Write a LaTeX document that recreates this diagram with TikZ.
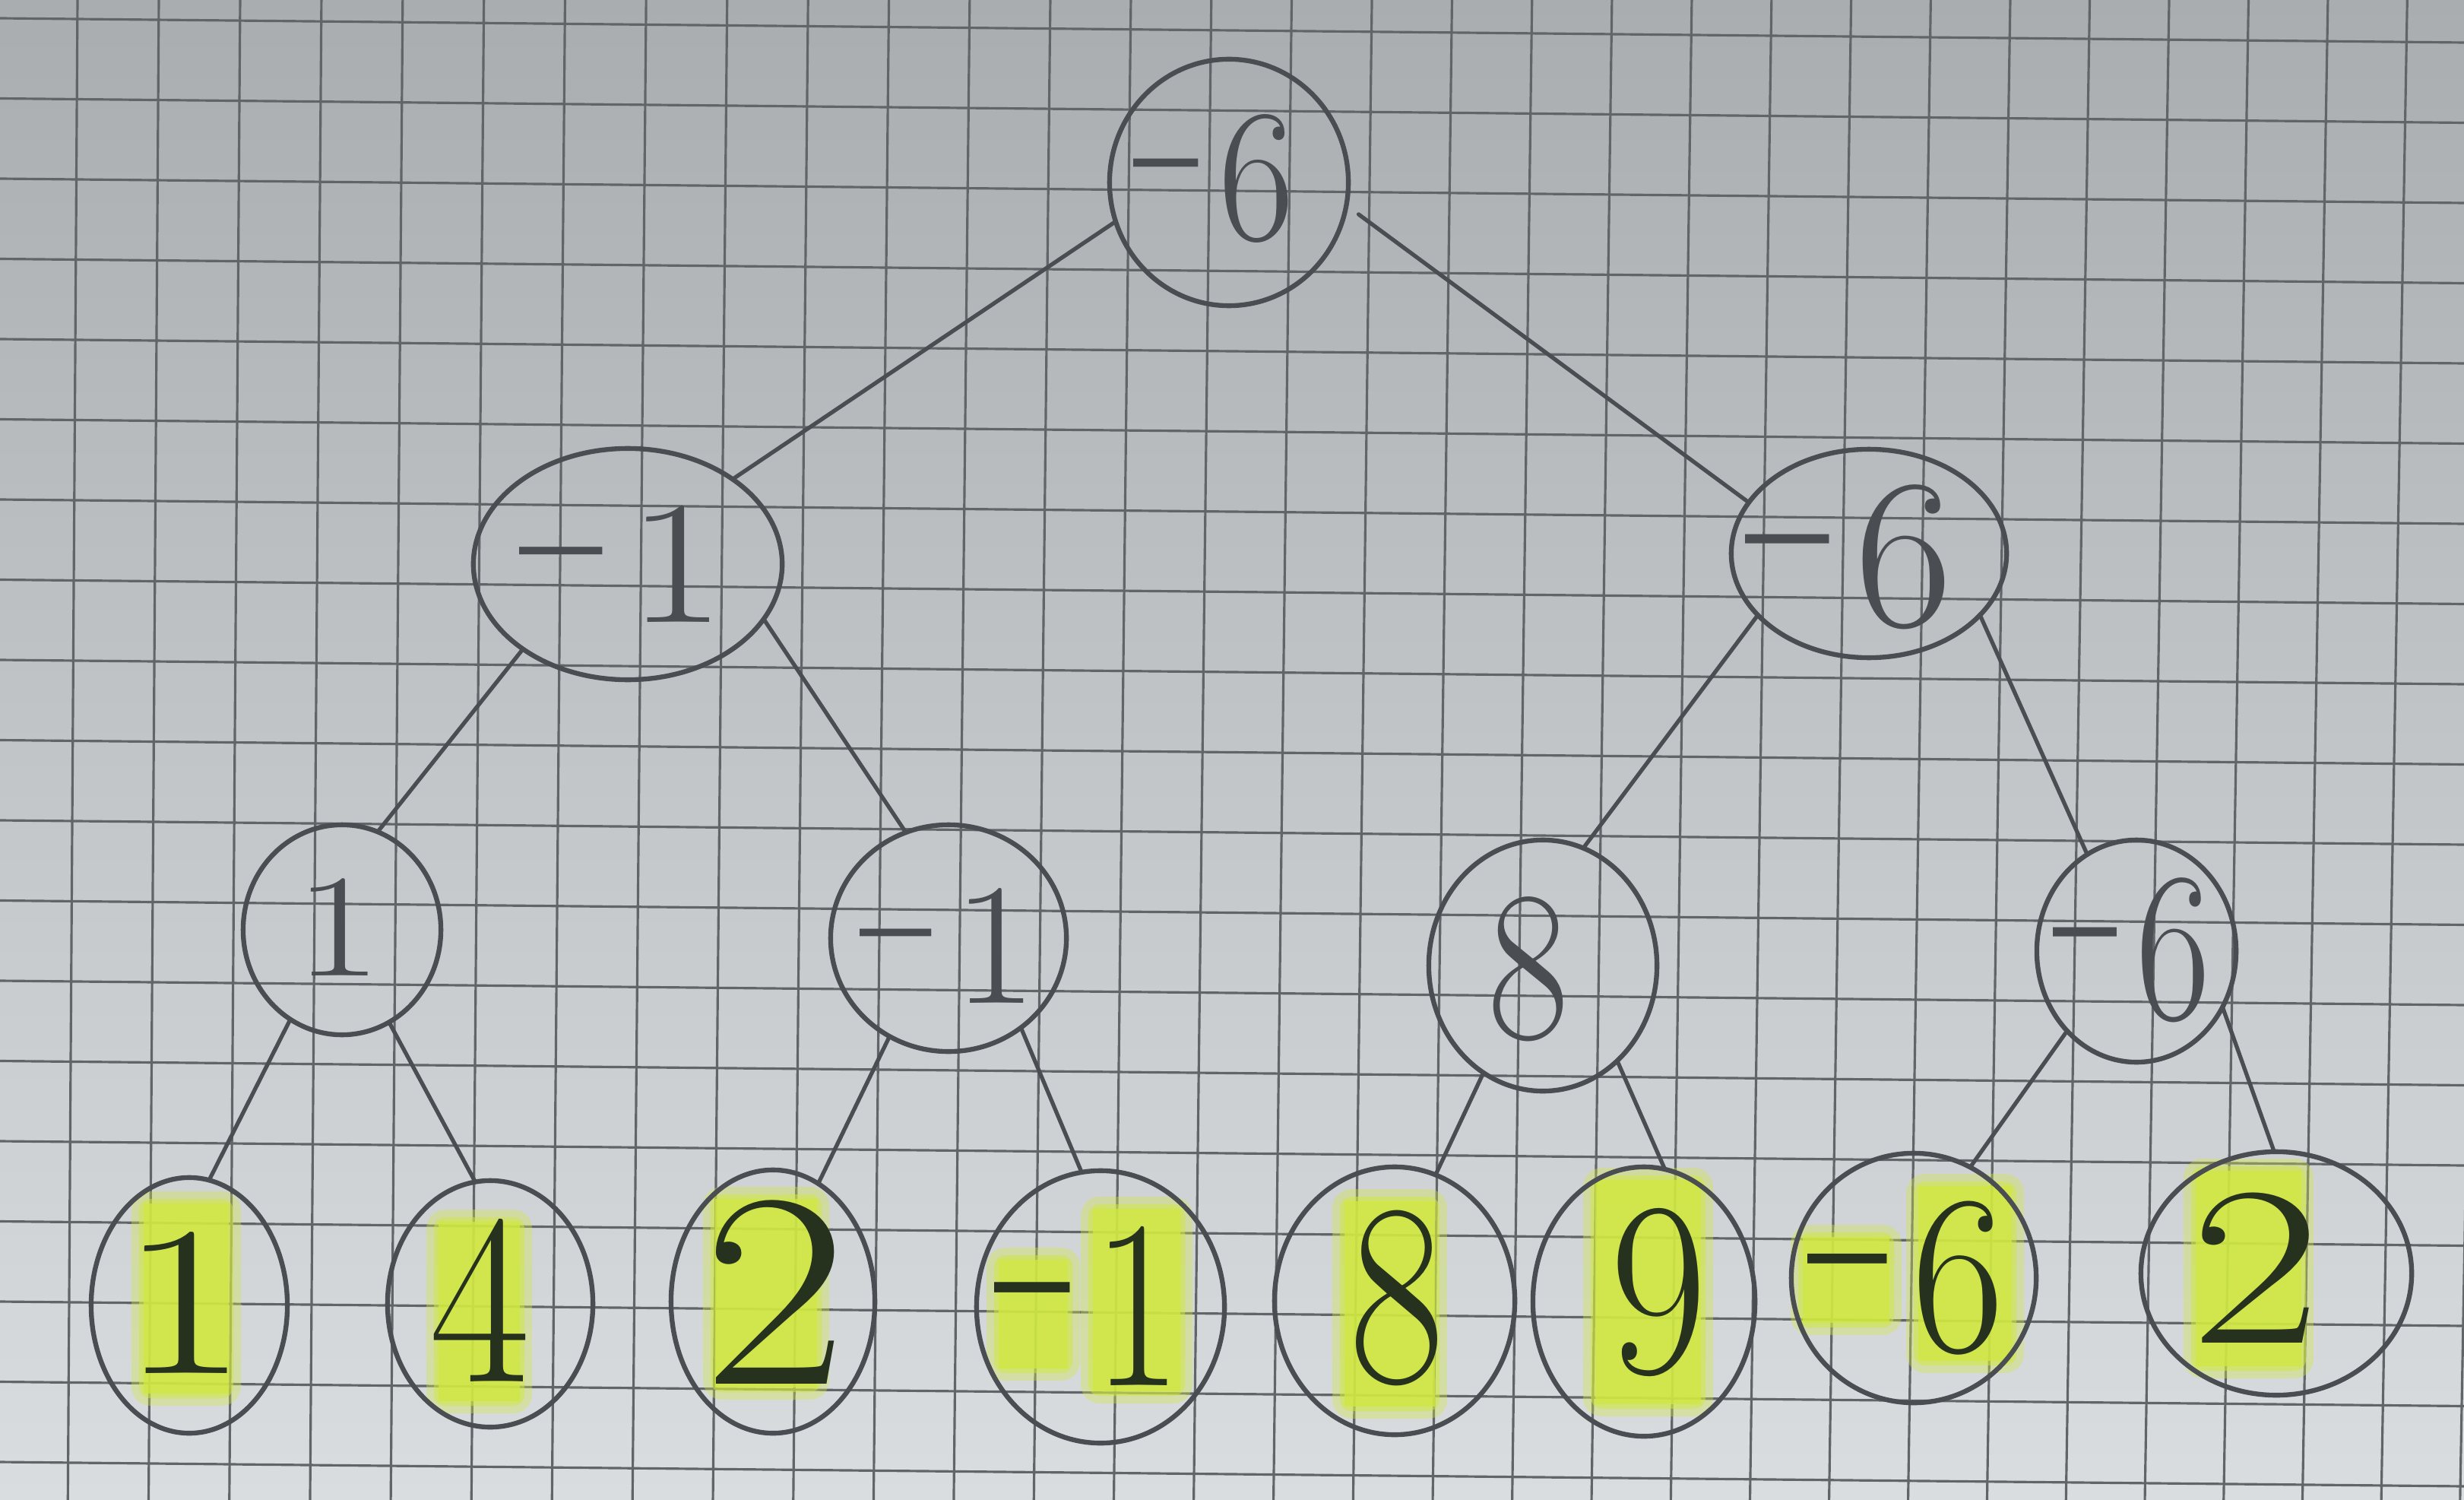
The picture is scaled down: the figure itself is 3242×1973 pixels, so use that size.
\documentclass[tikz,border=0pt]{standalone}
\usepackage{fontspec}
\usetikzlibrary{shapes.geometric}
\definecolor{papertop}{RGB}{170,173,175}
\definecolor{paperbot}{RGB}{218,221,223}
\definecolor{gridc}{RGB}{98,101,104}
\definecolor{pencilc}{RGB}{74,77,81}
\definecolor{inkc}{RGB}{38,50,30}
\definecolor{hlc}{RGB}{208,232,64}
\newcommand\hw[3]{\scalebox{#2}[1]{\fontsize{#1}{#1}\selectfont #3}}
\newcommand\mn{\raisebox{0.05em}{\scalebox{0.7}[1.3]{\bfseries –}}\kern0.12em}
\newcommand\hl[4]{%
  \fill[hlc,fill opacity=0.35,rounded corners=0.25cm] (#1-16,#2-16) rectangle (#3+16,#4+16);
  \fill[hlc,fill opacity=0.5,rounded corners=0.15cm] (#1-6,#2-6) rectangle (#3+6,#4+6);
  \fill[hlc,fill opacity=0.75] (#1,#2) rectangle (#3,#4);}
\begin{document}
\begin{tikzpicture}[x=0.01cm,y=-0.01cm,
  gridline/.style={draw=gridc,line width=0.9pt},
  bub/.style 2 args={ellipse,draw=pencilc,line width=1.8pt,inner sep=0pt,outer sep=0pt,
    minimum width={#1*0.02cm},minimum height={#2*0.02cm}},
  link/.style={draw=pencilc,line width=1.5pt,line cap=round},
  lbl/.style={inner sep=0pt,text=pencilc},
  leaflbl/.style={inner sep=0pt,text=inkc}]
\useasboundingbox (0,0) rectangle (3242,1973);
\begin{scope}
\clip (0,0) rectangle (3242,1973);
\shade[top color=papertop,bottom color=paperbot] (0,0) rectangle (3242,1973);
\foreach \k in {-1,...,30}{
  \pgfmathsetmacro\xt{102+105.7*\k+12*sin(180*\k/29)}
  \pgfmathsetmacro\xb{\xt-12-0.007*\xt}
  \draw[gridline] (\xt,0) -- (\xb,1973);
}
\foreach \k in {0,...,18}{
  \pgfmathsetmacro\ya{24+105.5*\k}
  \pgfmathsetmacro\yb{\ya+32}
  \draw[gridline] (0,\ya) -- (3242,\yb);
}
\hl{189}{1583}{301}{1833}
\hl{577}{1607}{684}{1843}
\hl{941}{1577}{1075}{1825}
\hl{1314}{1657}{1405}{1800}
\hl{1438}{1590}{1553}{1830}
\hl{1769}{1580}{1888}{1850}
\hl{2099}{1552}{2238}{1847}
\hl{2372}{1627}{2486}{1740}
\hl{2524}{1560}{2647}{1790}
\hl{2889}{1540}{3028}{1797}
\end{scope}
% tree nodes
\node[bub={157}{162}] (R) at (1617,240) {};
\node[bub={203}{152}] (A) at (826,742) {};
\node[bub={181}{137}] (B) at (2459,728) {};
\node[bub={130}{138}] (C) at (450,1223) {};
\node[bub={155}{149}] (D) at (1248,1234) {};
\node[bub={150}{165}] (E) at (2030,1270) {};
\node[bub={131}{146}] (F) at (2811,1251) {};
\node[bub={129}{168}] (L1) at (249,1717) {};
\node[bub={135}{162}] (L2) at (645,1715) {};
\node[bub={134}{173}] (L3) at (1017,1712) {};
\node[bub={163}{179}] (L4) at (1448,1719) {};
\node[bub={158}{176}] (L5) at (1835,1711) {};
\node[bub={146}{177}] (L6) at (2163,1712) {};
\node[bub={161}{164}] (L7) at (2518,1681) {};
\node[bub={178}{160}] (L8) at (2995,1675) {};
% connectors
\draw[link] (R.-161.6) -- (A.39.8);
\draw[link,shorten <=0.2cm] (R.-11.3) -- (B.157.7);
\draw[link] (A.-141.5) -- (C.70.1);
\draw[link] (A.-22.7) -- (D.112.8);
\draw[link] (B.-151.1) -- (E.71.6);
\draw[link] (B.-29.9) -- (F.117.3);
\draw[link] (C.-120.8) -- (L1.81.4);
\draw[link] (C.-63.2) -- (L2.97.5);
\draw[link] (D.-121.8) -- (L3.69.5);
\draw[link] (D.-51.3) -- (L4.98.2);
\draw[link] (E.-119.5) -- (L5.72.3);
\draw[link] (E.-52.3) -- (L6.81.1);
\draw[link] (F.-131.2) -- (L7.63.6);
\draw[link] (F.-33.7) -- (L8.91.5);
% labels
\node[lbl] (tR) at (1597,235) {\hw{71pt}{0.87}{\mn 6}};
\node[lbl] (tA) at (819,742) {\hw{66pt}{1.2}{\mn 1}};
\node[lbl] (tB) at (2433,733) {\hw{80pt}{1.0}{\mn 6}};
\node[lbl] (tC) at (445,1220) {\hw{55pt}{1.3}{1}};
\node[lbl] (tD) at (1248,1244) {\hw{65pt}{1.05}{\mn 1}};
\node[lbl] (tE) at (2011,1275) {\hw{80pt}{0.83}{8}};
\node[lbl] (tF) at (2805,1250) {\hw{80pt}{0.76}{\mn 6}};
\node[leaflbl] (tL1) at (242,1714) {\hw{80pt}{1.3}{1}};
\node[leaflbl] (tL2) at (632,1710) {\hw{91pt}{0.9}{4}};
\node[leaflbl] (tL3) at (1020,1700) {\hw{104pt}{1.13}{2}};
\node[leaflbl] (tL4) at (1432,1718) {\hw{90pt}{0.8}{\mn 1}};
\node[leaflbl] (tL5) at (1838,1707) {\hw{97pt}{0.8}{8}};
\node[leaflbl] (tL6) at (2182,1700) {\hw{93pt}{0.85}{9}};
\node[leaflbl] (tL7) at (2508,1681) {\hw{85pt}{0.89}{\mn 6}};
\node[leaflbl] (tL8) at (2968,1668) {\hw{85pt}{1.25}{2}};
\end{tikzpicture}
\end{document}
